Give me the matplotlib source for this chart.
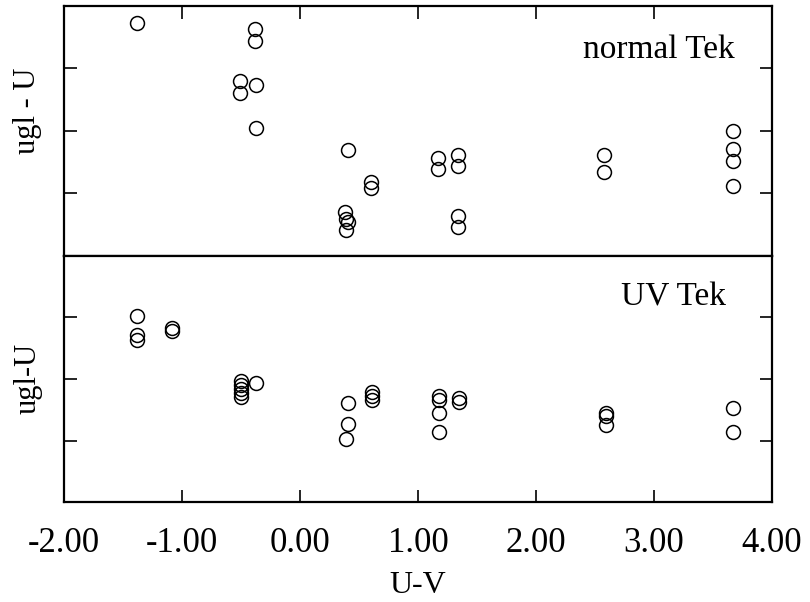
import matplotlib
matplotlib.use("Agg")
import matplotlib.pyplot as plt

# colour index U-V for each star, and offsets in the two panels
normal_uv = [-1.38, -0.38, -0.38, -0.51, -0.51, -0.37, -0.37, 0.41, 0.60, 0.60,
             0.38, 0.39, 0.41, 0.39, 1.17, 1.17, 1.34, 1.34, 1.34, 1.34,
             2.58, 2.58, 3.67, 3.67, 3.67, 3.67]
normal_ugl = [3.73, 3.63, 3.44, 2.80, 2.61, 2.74, 2.05, 1.70, 1.18, 1.09,
              0.70, 0.59, 0.54, 0.42, 1.57, 1.39, 1.62, 1.44, 0.64, 0.46,
              1.62, 1.34, 2.00, 1.71, 1.52, 1.12]

uvtek_uv = [-1.38, -1.38, -1.38, -1.085, -1.085, -0.50, -0.50, -0.50, -0.50, -0.50,
            -0.37, 0.41, 0.41, 0.39, 0.61, 0.61, 0.61, 1.18, 1.18, 1.18, 1.18,
            1.35, 1.35, 2.59, 2.59, 2.59, 3.67, 3.67]
uvtek_ugl = [3.02, 2.72, 2.63, 2.83, 2.78, 1.97, 1.90, 1.84, 1.77, 1.71,
             1.93, 1.61, 1.27, 1.02, 1.79, 1.72, 1.66, 1.72, 1.66, 1.45, 1.14,
             1.69, 1.63, 1.45, 1.40, 1.25, 1.53, 1.14]

x_ticks = [-2, -1, 0, 1, 2, 3, 4]
x_labels = ["-2.00", "-1.00", "0.00", "1.00", "2.00", "3.00", "4.00"]
y_ticks = [1, 2, 3]

plt.rcParams['font.family'] = ['Liberation Serif', 'DejaVu Serif']

fig = plt.figure(figsize=(8.1, 6.02), dpi=100)
ax_top = fig.add_axes([0.079, 0.575, 0.874, 0.415])
ax_bot = fig.add_axes([0.079, 0.166, 0.874, 0.409], sharex=ax_top)

for ax, xs, ys in [(ax_top, normal_uv, normal_ugl), (ax_bot, uvtek_uv, uvtek_ugl)]:
    ax.plot(xs, ys, linestyle="none", marker="o", markersize=10,
            markerfacecolor="none", markeredgecolor="black", markeredgewidth=1.1)
    ax.set_xlim(-2, 4)
    ax.set_ylim(0, 4)
    ax.set_yticks(y_ticks)
    ax.set_xticks(x_ticks)
    for sp in ax.spines.values():
        sp.set_linewidth(1.6)
    ax.tick_params(axis="y", which="both", direction="in", left=True, right=True,
                   labelleft=False, length=9, width=1.2)

# top panel: x ticks along the top edge only
ax_top.tick_params(axis="x", direction="in", top=True, bottom=False,
                   labelbottom=False, labeltop=False, length=9, width=1.2)
# bottom panel: x ticks along the bottom edge with labels
ax_bot.tick_params(axis="x", direction="in", top=False, bottom=True,
                   labelbottom=True, length=9, width=1.2, pad=18, labelsize=25)
ax_bot.set_xticklabels(x_labels)

ax_top.text(0.948, 0.824, "normal Tek", transform=ax_top.transAxes,
            ha="right", va="center", fontsize=24)
ax_bot.text(0.935, 0.833, "UV Tek", transform=ax_bot.transAxes,
            ha="right", va="center", fontsize=24)

# y labels placed by hand, the top one sits above its panel middle
fig.text(0.034, 0.816, "ugl - U", rotation=90, ha="center", va="center", fontsize=22)
fig.text(0.034, 0.371, "ugl-U", rotation=90, ha="center", va="center", fontsize=22)
ax_bot.set_xlabel("U-V", fontsize=23, labelpad=8)

plt.savefig("out.png", dpi=100)
